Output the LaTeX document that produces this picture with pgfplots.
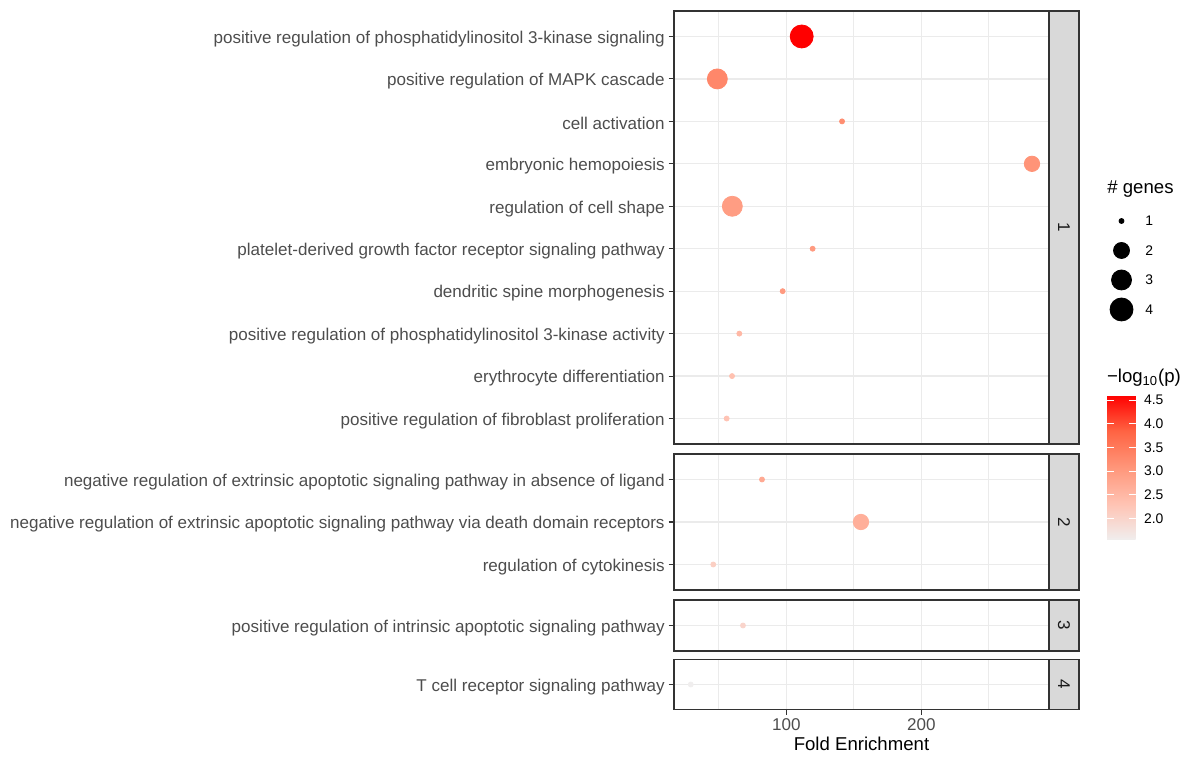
\documentclass[border=0pt]{standalone}
\usepackage{fontspec}
\setmainfont{Liberation Sans}
\usepackage{pgfplots}
\usepackage{pgfplotstable}
\pgfplotsset{compat=1.18}

\definecolor{gridc}{HTML}{EBEBEB}
\definecolor{grey20}{HTML}{333333}
\definecolor{grey30}{HTML}{4D4D4D}
\definecolor{grey10}{HTML}{1A1A1A}
\definecolor{stripc}{HTML}{D9D9D9}

\newcommand\axfont{\fontsize{8.52pt}{10pt}\selectfont}
\newcommand\legfont{\fontsize{6.95pt}{8pt}\selectfont}
\newcommand\titfont{\fontsize{9.3pt}{11pt}\selectfont}

% x = fold enrichment, y = row, p = -log10(p), r = marker radius (pt)
\pgfplotstableread{
x     y  p     r
111.4 1  4.61  5.75
48.9  2  3.30  5.0
141.3 3  3.20  1.25
282.0 4  3.10  3.85
60.0  5  2.95  5.0
119.5 6  3.00  1.25
97.3  7  3.00  1.25
65.2  8  2.50  1.25
59.8  9  2.35  1.25
55.8  10 2.30  1.25
}\panelA
\pgfplotstableread{
x     y  p     r
82.0  1  2.75  1.25
155.3 2  2.65  3.85
45.9  3  2.10  1.25
}\panelB
\pgfplotstableread{
x     y  p     r
67.9  1  2.00  1.25
}\panelC
\pgfplotstableread{
x     y  p     r
29.2  1  1.54  1.25
}\panelD

\pgfplotsset{
  /pgf/number format/assume math mode=true,
  colormap={gered}{rgb255(0cm)=(240,238,238) rgb255(1cm)=(255,195,179)
    rgb255(2cm)=(255,150,122) rgb255(3cm)=(255,100,67) rgb255(4cm)=(255,0,0)},
  panel/.style={
    scale only axis, width=187.5pt, anchor=north west,
    xmin=16.8, xmax=294.6, y dir=reverse, ymin=0.4,
    xtick={100,200}, minor xtick={50,150,250},
    xmajorgrids, xminorgrids, ymajorgrids,
    major grid style={gridc, line width=0.6pt},
    minor grid style={gridc, line width=0.4pt},
    axis line style={grey20, line width=0.75pt},
    tick align=outside, major tick length=2.65pt, minor tick length=0pt,
    tick style={grey20, line width=0.55pt},
    ytick pos=left, xtick pos=bottom,
    yticklabel style={grey30, font=\axfont, xshift=1.5pt, yshift=-1.2pt},
    xticklabel style={grey30, font=\axfont, yshift=1.5pt},
    colormap name=gered, point meta min=1.54, point meta max=4.61,
  },
  upper/.style={xticklabels={}, xtick style={draw=none}},
  dots/.style={scatter, only marks, mark=*, point meta=explicit,
    scatter/use mapped color={draw=mapped color, fill=mapped color},
    visualization depends on={\thisrow{r}\as\rr},
    scatter/@pre marker code/.append style={/tikz/mark size=\rr}},
  key/.style={only marks, mark=*, black, mark size=#1,
    nodes near coords, point meta=y,
    nodes near coords style={anchor=west, inner sep=0pt, xshift=11.75pt,
      font=\legfont, text=black}},
}

\begin{document}
\begin{tikzpicture}
\useasboundingbox (0,0) rectangle (597.5pt,-379pt);

\begin{axis}[panel, upper, name=p1, at={(337pt,-5.5pt)}, height=216.5pt,
  ymax=10.6, ytick={1,...,10},
  yticklabels={positive regulation of phosphatidylinositol 3-kinase signaling,
    positive regulation of MAPK cascade, cell activation, embryonic hemopoiesis,
    regulation of cell shape, platelet-derived growth factor receptor signaling pathway,
    dendritic spine morphogenesis, positive regulation of phosphatidylinositol 3-kinase activity,
    erythrocyte differentiation, positive regulation of fibroblast proliferation},
  colorbar,
  colorbar style={anchor=north west, at={(parent axis.north east)},
    xshift=20.5pt, yshift=-192pt, scale only axis, width=14.5pt, height=72.5pt,
    axis on top=true,
    ytick={2,2.5,3,3.5,4,4.5}, yticklabel pos=right, ytick pos=both,
    yticklabel style={black, font=\legfont, xshift=0.5pt,
      /pgf/number format/.cd, fixed, fixed zerofill, precision=1},
    tick align=inside, major tick length=3.5pt,
    tick style={white, line width=0.5pt}, axis line style={draw=none},
    after end axis/.append code={
      \foreach \v in {2,2.5,3,3.5,4,4.5}
        \draw[white, line width=0.5pt] ({axis description cs:0,0} |- {axis cs:0,\v}) -- ++(3.5pt,0);
    }},
]
\addplot[dots] table[x=x, y=y, meta=p] {\panelA};
\end{axis}

\begin{axis}[panel, upper, name=p2, at={(337pt,-227pt)}, height=68pt,
  ymax=3.6, ytick={1,2,3},
  yticklabels={negative regulation of extrinsic apoptotic signaling pathway in absence of ligand,
    negative regulation of extrinsic apoptotic signaling pathway via death domain receptors,
    regulation of cytokinesis},
]
\addplot[dots] table[x=x, y=y, meta=p] {\panelB};
\end{axis}

\begin{axis}[panel, upper, name=p3, at={(337pt,-300pt)}, height=25.5pt,
  ymax=1.6, ytick={1},
  yticklabels={positive regulation of intrinsic apoptotic signaling pathway},
]
\addplot[dots] table[x=x, y=y, meta=p] {\panelC};
\end{axis}

\begin{axis}[panel, name=p4, at={(337pt,-329.75pt)}, height=25pt,
  ymax=1.6, ytick={1},
  yticklabels={T cell receptor signaling pathway},
  xlabel={Fold Enrichment}, xlabel style={font=\titfont, black, yshift=4pt},
]
\addplot[dots] table[x=x, y=y, meta=p] {\panelD};
\end{axis}

% facet strips
\foreach \p/\l in {p1/1, p2/2, p3/3, p4/4} {
  \draw[grey20, fill=stripc, line width=0.75pt] (\p.south east) rectangle ([xshift=15pt]\p.north east);
  \path (\p.south east) -- ([xshift=15pt]\p.north east)
    node[midway, rotate=-90, font=\axfont, text=grey10] {\l};
}

% size legend
\node[anchor=west, font=\titfont, inner sep=0pt] at (553.5pt,-94.5pt) {\#~genes};
\begin{axis}[hide axis, scale only axis, anchor=north west, at={(553.5pt,-103.125pt)},
  width=14.5pt, height=59pt, xmin=0, xmax=1, ymin=0.5, ymax=4.5, y dir=reverse, clip=false]
\addplot[key=1.25] coordinates {(0.5,1)};
\addplot[key=4.0]  coordinates {(0.5,2)};
\addplot[key=5.0]  coordinates {(0.5,3)};
\addplot[key=5.75] coordinates {(0.5,4)};
\end{axis}

% colour legend title
\node[anchor=west, font=\titfont, inner sep=0pt] at (553.3pt,-189pt) {−log\textsubscript{10}(p)};
\end{tikzpicture}
\end{document}
